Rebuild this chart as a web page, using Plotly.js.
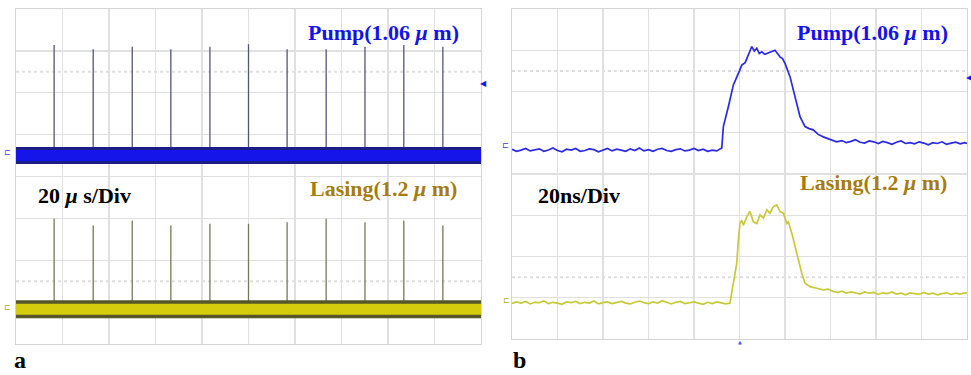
<!DOCTYPE html>
<html><head><meta charset="utf-8">
<script src="https://cdn.plot.ly/plotly-3.0.1.min.js"></script>
<style>html,body{margin:0;padding:0;background:#fff}#chart{width:971px;height:375px}</style>
</head><body><div id="chart"></div>
<script>
// ---------- Panel a : 20 us/Div (x in us, y in divisions) ----------
const spikeTimesA = [16.4, 33.2, 50.0, 66.6, 83.4, 100.0, 116.6, 133.4, 150.1, 166.8, 183.6];
const pumpPeaksA  = [7.14, 7.04, 7.10, 7.04, 7.10, 7.16, 7.04, 7.04, 7.10, 7.14, 7.10];
const laserPeaksA = [2.99, 2.83, 2.95, 2.83, 2.87, 2.87, 2.91, 2.99, 2.91, 2.95, 2.83];
const pumpBaseA = 4.50;
const laserBaseA = 0.83;

// ---------- Panel b : 20 ns/Div (x in ns, y in divisions) ----------
const pumpTB = [0,2,4,6,8,10,12,14,16,18,20,22,24,26,28,30,32,34,36,38,40,42,44,46,48,50,52,54,56,58,60,62,64,66,68,70,72,74,76,78,80,82,84,86,88,90,
  92.2,92.9,95.1,97.3,99.5,101.0,102.5,103.9,105.4,106.5,107.6,108.7,109.8,111.2,112.7,114.1,115.6,116.7,117.8,118.9,120.0,122.2,124.4,126.6,128.8,130.6,132.4,134.6,136.8,138.8,140.8,142.7,
  145,147,149,151,153,155,157,159,161,163,165,167,169,171,173,175,177,179,181,183,185,187,189,191,193,195,197,199,200];
const pumpVB = [4.60,4.55,4.58,4.62,4.56,4.59,4.61,4.55,4.58,4.63,4.57,4.54,4.60,4.58,4.62,4.55,4.57,4.61,4.59,4.54,4.58,4.62,4.56,4.60,4.58,4.55,4.61,4.57,4.63,4.56,4.59,4.55,4.60,4.62,4.57,4.55,4.59,4.61,4.56,4.58,4.62,4.57,4.60,4.55,4.58,4.56,
  4.63,5.15,5.63,6.16,6.44,6.64,6.70,6.88,7.09,6.98,7.05,6.92,6.96,6.90,6.93,6.97,7.00,6.92,6.84,6.80,6.68,6.36,5.87,5.39,5.15,5.10,5.07,4.96,4.90,4.86,4.83,4.78,
  4.81,4.76,4.79,4.83,4.77,4.75,4.80,4.78,4.74,4.79,4.76,4.72,4.77,4.80,4.74,4.76,4.73,4.78,4.75,4.71,4.76,4.74,4.78,4.72,4.75,4.77,4.73,4.76,4.74];
const laserTB = [0,2,4,6,8,10,12,14,16,18,20,22,24,26,28,30,32,34,36,38,40,42,44,46,48,50,52,54,56,58,60,62,64,66,68,70,72,74,76,78,80,82,84,86,88,90,92,94,
  95.8,97.3,98.8,99.5,100.2,101.0,101.7,103.2,104.6,106.1,107.6,109.0,110.5,112.0,113.4,114.9,116.4,117.8,119.3,120.8,121.5,123.0,124.4,125.9,127.4,128.8,131.0,133.9,136.8,139.0,141.2,
  143,145,147,149,151,153,155,157,159,161,163,165,167,169,171,173,175,177,179,181,183,185,187,189,191,193,195,197,199,200];
const laserVB = [0.86,0.90,0.87,0.91,0.85,0.89,0.88,0.92,0.86,0.89,0.87,0.84,0.90,0.88,0.91,0.86,0.89,0.87,0.92,0.85,0.88,0.90,0.86,0.89,0.91,0.87,0.85,0.89,0.92,0.88,0.86,0.90,0.87,0.93,0.88,0.85,0.89,0.91,0.86,0.88,0.90,0.87,0.84,0.89,0.86,0.90,0.87,0.85,
  0.87,1.35,1.84,2.40,2.80,2.88,2.76,2.96,3.09,2.84,2.80,3.01,2.93,3.13,3.05,3.21,3.25,3.09,3.05,2.80,2.84,2.56,2.24,1.92,1.59,1.35,1.27,1.23,1.19,1.21,1.15,
  1.13,1.16,1.11,1.14,1.12,1.09,1.14,1.11,1.13,1.08,1.12,1.10,1.14,1.09,1.11,1.07,1.12,1.10,1.08,1.13,1.09,1.11,1.07,1.10,1.12,1.08,1.11,1.09,1.12,1.11];

const refLevels = [1.5, 6.5];
const labels = {
  pump: 'Pump(1.06 <i>μ</i> m)',
  laser: 'Lasing(1.2 <i>μ</i> m)',
  divA: '20 <i>μ</i> s/Div',
  divB: '20ns/Div',
  a: 'a', b: 'b'
};

// ---------- build ----------
function spikes(times, base, peaks) {
  const x = [], y = [];
  times.forEach((t, i) => { x.push(t, t, null); y.push(base, peaks[i], null); });
  return {x, y};
}
const W = 971, H = 375;
const px = v => v / W, py = v => 1 - v / H;

const traces = [];
const sp = spikes(spikeTimesA, pumpBaseA, pumpPeaksA);
const sl = spikes(spikeTimesA, laserBaseA, laserPeaksA);
traces.push({x: sp.x, y: sp.y, xaxis: 'x', yaxis: 'y', mode: 'lines', line: {color: '#555575', width: 1.3}, hoverinfo: 'skip'});
traces.push({x: sl.x, y: sl.y, xaxis: 'x', yaxis: 'y', mode: 'lines', line: {color: '#77775a', width: 1.3}, hoverinfo: 'skip'});
// noise bands
traces.push({x: [0, 200], y: [pumpBaseA, pumpBaseA], xaxis: 'x', yaxis: 'y', mode: 'lines', line: {color: '#1d1d86', width: 17}, hoverinfo: 'skip'});
traces.push({x: [0, 200], y: [pumpBaseA, pumpBaseA], xaxis: 'x', yaxis: 'y', mode: 'lines', line: {color: '#1515ea', width: 11}, hoverinfo: 'skip'});
traces.push({x: [0, 200], y: [laserBaseA, laserBaseA], xaxis: 'x', yaxis: 'y', mode: 'lines', line: {color: '#56562a', width: 18}, hoverinfo: 'skip'});
traces.push({x: [0, 200], y: [laserBaseA, laserBaseA], xaxis: 'x', yaxis: 'y', mode: 'lines', line: {color: '#d4cc0c', width: 11}, hoverinfo: 'skip'});
// panel b
traces.push({x: pumpTB, y: pumpVB, xaxis: 'x2', yaxis: 'y2', mode: 'lines', line: {color: '#2a2ae0', width: 1.7}, hoverinfo: 'skip'});
traces.push({x: laserTB, y: laserVB, xaxis: 'x2', yaxis: 'y2', mode: 'lines', line: {color: '#c8c83a', width: 1.7}, hoverinfo: 'skip'});

const axBase = {showgrid: true, gridcolor: '#e0e0e0', gridwidth: 1.3, zeroline: false, showticklabels: false, ticks: '',
  showline: true, mirror: true, linecolor: '#d4d4d4', linewidth: 1.3, fixedrange: true};
const layout = {
  width: W, height: H, margin: {l: 0, r: 0, t: 0, b: 0},
  paper_bgcolor: '#fff', plot_bgcolor: '#fff', showlegend: false,
  xaxis: Object.assign({}, axBase, {domain: [px(16), px(481)], range: [0, 200], dtick: 20, anchor: 'y'}),
  yaxis: Object.assign({}, axBase, {domain: [py(344), py(9)], range: [0, 8], dtick: 1, anchor: 'x'}),
  xaxis2: Object.assign({}, axBase, {domain: [px(512), px(967)], range: [0, 200], dtick: 20, anchor: 'y2'}),
  yaxis2: Object.assign({}, axBase, {domain: [py(339), py(9)], range: [0, 8], dtick: 1, anchor: 'x2'}),
  shapes: [], annotations: []
};
[['x', 'y'], ['x2', 'y2']].forEach(([xr, yr]) => {
  refLevels.forEach(lv => layout.shapes.push({type: 'line', xref: xr, yref: yr, x0: 0, x1: 200, y0: lv, y1: lv,
    line: {color: '#dedede', width: 2, dash: 'dot'}, layer: 'below'}));
});
const serif = 'Liberation Serif, Times New Roman, serif';
function txt(text, x, y, color, size) {
  layout.annotations.push({text: '<b>' + text + '</b>', xref: 'paper', yref: 'paper', x: px(x), y: py(y),
    xanchor: 'left', yanchor: 'middle', showarrow: false, borderpad: 0, font: {family: serif, size: size || 22, color: color}});
}
txt(labels.pump, 307, 32, '#1414e8');
txt(labels.pump, 796, 32, '#1414e8');
txt(labels.laser, 309, 188, '#a67c12');
txt(labels.laser, 799, 182, '#a67c12');
txt(labels.divA, 37, 195, '#000');
txt(labels.divB, 537, 195, '#000');
txt(labels.a, 13, 360, '#000', 24);
txt(labels.b, 512, 360, '#000', 24);
// small scope markers
function mark(t, x, y, color, size) {
  layout.annotations.push({text: t, xref: 'paper', yref: 'paper', x: px(x), y: py(y), xanchor: 'center', yanchor: 'middle',
    showarrow: false, borderpad: 0, font: {family: 'DejaVu Sans', size: size, color: color}});
}
mark('◀', 483, 84, '#1a1ae0', 8);
mark('◀', 969, 78, '#1a1ae0', 8);
mark('▲', 740, 342, '#5050e0', 5);
mark('⊏', 7, 152, '#4040d0', 8);
mark('⊏', 7, 307, '#b0a820', 8);
mark('⊏', 506, 145, '#4040d0', 8);
mark('⊏', 507, 300, '#b0a820', 8);

Plotly.newPlot('chart', traces, layout, {displayModeBar: false, staticPlot: true});
</script></body></html>
